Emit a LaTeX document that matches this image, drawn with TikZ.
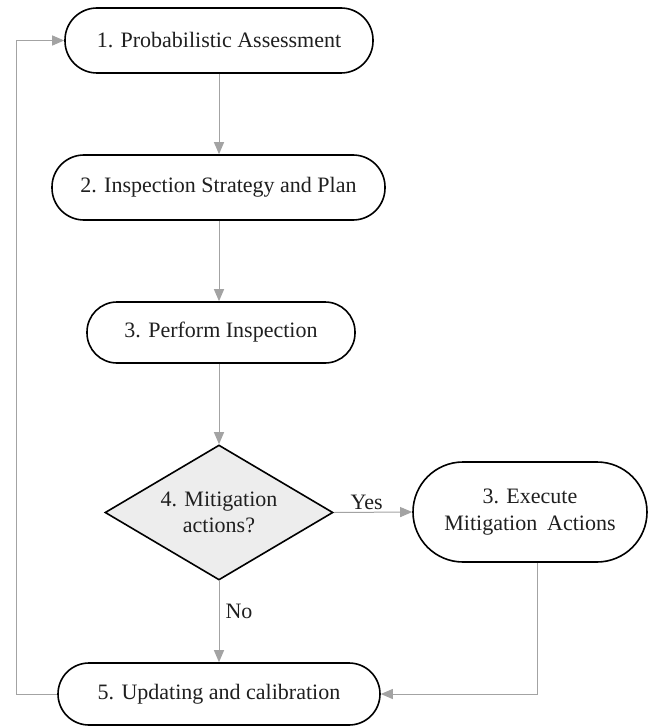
\documentclass[tikz,border=0pt]{standalone}
\usepackage{fontspec}
\setmainfont{Liberation Serif}
\usetikzlibrary{shapes.geometric,arrows.meta,calc}
\definecolor{linkgray}{HTML}{A3A3A3}
\definecolor{txt}{HTML}{1F1F1F}
\definecolor{decfill}{HTML}{EDEDED}
\begin{document}
\begin{tikzpicture}[x=1pt,y=1pt,
  every node/.style={font=\fontsize{22}{26.5}\selectfont, text=txt},
  pill/.style={draw=black, line width=1.6pt, fill=white, inner sep=0pt, align=center},
  decision/.style={diamond, draw=black, line width=1.6pt, fill=decfill, inner sep=0pt,
    aspect=1.69, minimum width=228pt, minimum height=135pt, align=center},
  link/.style={draw=linkgray, line width=1pt, -{Triangle[length=12pt,width=10pt]}},
  lbl/.style={inner sep=1pt}
]
\useasboundingbox (0,0) rectangle (648,-727);

% process steps
\node[pill, minimum width=308pt, minimum height=65pt, rounded corners=32pt] (b1) at (219,-40.5) {1. Probabilistic Assessment};
\node[pill, minimum width=333pt, minimum height=65pt, rounded corners=32pt] (b2) at (218.5,-187.5) {2. Inspection Strategy and Plan};
\node[pill, minimum width=268pt, minimum height=61pt, rounded corners=30pt] (b3) at (221,-332.5) {3. Perform Inspection};
\node[decision] (d4) at (219,-512.5) {4. Mitigation\\actions?};
\node[pill, minimum width=234pt, minimum height=100pt, rounded corners=50pt] (ex) at (530,-512) {3. Execute\\Mitigation\hspace{0.45em}Actions};
\node[pill, minimum width=322pt, minimum height=62pt, rounded corners=31pt] (b5) at (219,-694) {5. Updating and calibration};

% loop-back corner on the left
\coordinate (back) at (16,-40.5);

% connectors
\draw[link] (b1.south -| 219,0) -- (b2.north -| 219,0);
\draw[link] (b2.south -| 219,0) -- (b3.north -| 219,0);
\draw[link] (b3.south -| 219,0) -- (d4.north);
\draw[link] (d4.east) -- (ex.west) node[lbl, pos=0.42, above=1pt] {Yes};
\draw[link] (d4.south) -- (b5.north) node[lbl, pos=0.38, right=5pt] {No};
\draw[link] ($(ex.south)+(7,0)$) |- (b5.east);
\draw[link] (b5.west) -| (back) -- (b1.west);
\end{tikzpicture}
\end{document}
